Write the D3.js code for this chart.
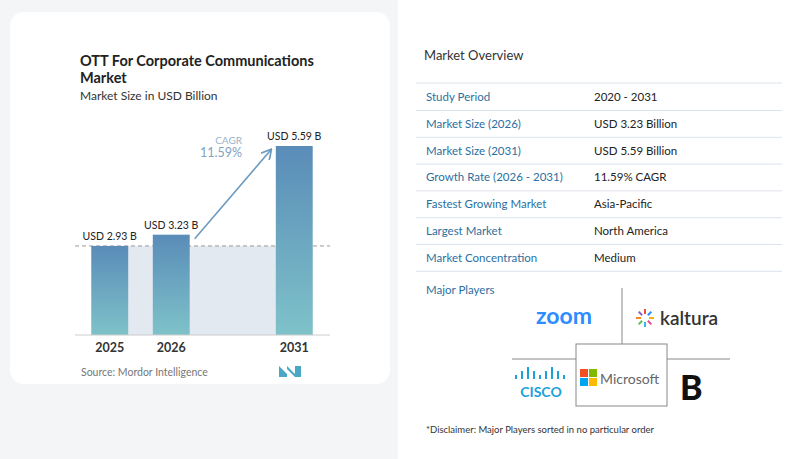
<!DOCTYPE html>
<html><head><meta charset="utf-8">
<script src="https://cdn.jsdelivr.net/npm/d3@7"></script>
<style>body{margin:0;background:#f4f5f7;font-family:Lato,"Open Sans",sans-serif}</style>
</head><body>
<svg width="800" height="459"></svg>
<script>
const years = ["2025", "2026", "", "2031"];
const values = [2.93, 3.23, null, 5.59];
const labels = ["USD 2.93 B", "USD 3.23 B", "", "USD 5.59 B"];
const rowKeys = ["Study Period", "Market Size (2026)", "Market Size (2031)", "Growth Rate (2026 - 2031)", "Fastest Growing Market", "Largest Market", "Market Concentration"];
const rowVals = ["2020 - 2031", "USD 3.23 Billion", "USD 5.59 Billion", "11.59% CAGR", "Asia-Pacific", "North America", "Medium"];

const svg = d3.select("svg");
svg.append("rect").attr("width", 800).attr("height", 459).attr("fill", "#f4f5f7");
svg.append("rect").attr("x", 10).attr("y", 12).attr("width", 380).attr("height", 372).attr("rx", 14).attr("fill", "#fff");
svg.append("rect").attr("x", 398).attr("y", 0).attr("width", 402).attr("height", 459).attr("fill", "#fff");

const defs = svg.append("defs");
const gr = defs.append("linearGradient").attr("id", "bg").attr("x1", 0).attr("y1", 0).attr("x2", 0).attr("y2", 1);
gr.append("stop").attr("offset", "0%").attr("stop-color", "#5a8cb8");
gr.append("stop").attr("offset", "100%").attr("stop-color", "#7ec2c9");

svg.append("text").attr("x", 80).attr("y", 66).attr("font-size", 14.5).attr("font-weight", 700).attr("fill", "#222").text("OTT For Corporate Communications");
svg.append("text").attr("x", 80).attr("y", 83).attr("font-size", 14.5).attr("font-weight", 700).attr("fill", "#222").text("Market");
svg.append("text").attr("x", 80).attr("y", 100).attr("font-size", 12).attr("fill", "#333").text("Market Size in USD Billion");

const x = d3.scaleBand().domain(years).range([79, 325]).paddingInner(0.4).paddingOuter(0.2);
const y = d3.scaleLinear().domain([0.56, 5.59]).range([335, 146]);

svg.append("rect").attr("x", x("2025")).attr("y", y(values[0]))
  .attr("width", x("2031") + x.bandwidth() - x("2025")).attr("height", 335 - y(values[0])).attr("fill", "#e2e9f1");
svg.append("line").attr("x1", 75).attr("x2", 330).attr("y1", y(values[0])).attr("y2", y(values[0]))
  .attr("stroke", "#999").attr("stroke-dasharray", "4,3");

const data = years.map((d, i) => ({ year: d, v: values[i], l: labels[i] })).filter(d => d.v != null);
svg.selectAll(".bar").data(data).enter().append("rect")
  .attr("x", d => x(d.year)).attr("y", d => y(d.v)).attr("width", x.bandwidth())
  .attr("height", d => 335 - y(d.v)).attr("fill", "url(#bg)");
svg.selectAll(".vl").data(data).enter().append("text")
  .attr("x", d => x(d.year) + x.bandwidth() / 2).attr("y", d => y(d.v) - 6)
  .attr("text-anchor", "middle").attr("font-size", 10.5).attr("fill", "#222").text(d => d.l);
svg.append("line").attr("x1", 75).attr("x2", 330).attr("y1", 335).attr("y2", 335).attr("stroke", "#ccc");
svg.selectAll(".yr").data(data).enter().append("text")
  .attr("x", d => x(d.year) + x.bandwidth() / 2).attr("y", 352)
  .attr("text-anchor", "middle").attr("font-size", 12.5).attr("font-weight", 700).attr("fill", "#333").text(d => d.year);

// CAGR arrow
defs.append("marker").attr("id", "ah").attr("viewBox", "0 0 10 10").attr("refX", 8).attr("refY", 5)
  .attr("markerWidth", 7).attr("markerHeight", 7).attr("orient", "auto")
  .append("path").attr("d", "M0,0 L9,5 L0,10").attr("fill", "none").attr("stroke", "#6b9bc0").attr("stroke-width", 1.5);
svg.append("line").attr("x1", x("2026") + x.bandwidth() + 5).attr("y1", y(values[1]) + 4)
  .attr("x2", x("2031") - 5).attr("y2", y(values[3]) + 4)
  .attr("stroke", "#6b9bc0").attr("stroke-width", 1.6).attr("marker-end", "url(#ah)");
svg.append("text").attr("x", 242).attr("y", 144).attr("text-anchor", "end").attr("font-size", 10).attr("fill", "#9ab3c8").text("CAGR");
svg.append("text").attr("x", 242).attr("y", 157).attr("text-anchor", "end").attr("font-size", 12.5).attr("fill", "#7fa3c2").text("11.59%");

svg.append("text").attr("x", 81).attr("y", 376).attr("font-size", 10.5).attr("fill", "#777").text("Source:  Mordor Intelligence");
svg.append("path").attr("d", "M279,377 L279,366 L287,374 L287,366 L295,374 L295,366 L301,366 L301,377 L295,377 L287,369 L287,377 Z").attr("fill", "#4aa8c4");

// right panel
svg.append("text").attr("x", 424).attr("y", 60).attr("font-size", 13).attr("fill", "#333").text("Market Overview");
rowKeys.forEach((k, i) => {
  const yy = 97 + i * 26.8;
  svg.append("text").attr("x", 426).attr("y", yy + 4).attr("font-size", 11.5).attr("fill", "#2b6f9f").text(k);
  svg.append("text").attr("x", 594).attr("y", yy + 4).attr("font-size", 11.5).attr("fill", "#222").text(rowVals[i]);
  svg.append("line").attr("x1", 416).attr("x2", 782).attr("y1", yy + 13.5).attr("y2", yy + 13.5).attr("stroke", "#dde3ea");
});
svg.append("line").attr("x1", 416).attr("x2", 782).attr("y1", 83).attr("y2", 83).attr("stroke", "#dde3ea");
svg.append("text").attr("x", 426).attr("y", 294).attr("font-size", 11.5).attr("fill", "#2b6f9f").text("Major Players");

// logos grid
const g = svg.append("g").attr("stroke", "#888").attr("fill", "none");
g.append("line").attr("x1", 622).attr("x2", 622).attr("y1", 288).attr("y2", 344);
g.append("rect").attr("x", 576).attr("y", 344).attr("width", 91).attr("height", 62);
g.append("line").attr("x1", 512).attr("x2", 576).attr("y1", 359).attr("y2", 359);
g.append("line").attr("x1", 667).attr("x2", 730).attr("y1", 359).attr("y2", 359);
svg.append("text").attr("x", 564).attr("y", 324).attr("text-anchor", "middle").attr("font-size", 23).attr("font-weight", 700).attr("fill", "#2d8cff").text("zoom");
svg.append("text").attr("x", 660).attr("y", 325).attr("font-size", 19).attr("font-weight", 600).attr("fill", "#333").text("kaltura");
["#f4b400", "#e94b8a", "#39b6e6", "#5bbf5b", "#f58b1f", "#8a63d2", "#e94b3c", "#2d8cff"].forEach((c, i) => {
  const a = i * Math.PI / 4;
  svg.append("line").attr("x1", 645 + 4 * Math.cos(a)).attr("y1", 318 + 4 * Math.sin(a))
    .attr("x2", 645 + 9 * Math.cos(a)).attr("y2", 318 + 9 * Math.sin(a)).attr("stroke", c).attr("stroke-width", 2);
});
[0, 1, 2, 3, 4, 5, 6, 7, 8].forEach(i => {
  const h = [4, 8, 12, 8, 4, 8, 12, 8, 4][i];
  svg.append("line").attr("x1", 516 + i * 6).attr("x2", 516 + i * 6).attr("y1", 379 - h).attr("y2", 379)
    .attr("stroke", "#1ba0d7").attr("stroke-width", 2);
});
svg.append("text").attr("x", 541).attr("y", 397).attr("text-anchor", "middle").attr("font-size", 14).attr("font-weight", 700).attr("fill", "#1ba0d7").text("CISCO");
[["#f25022", 580, 369], ["#7fba00", 589, 369], ["#00a4ef", 580, 378], ["#ffb900", 589, 378]].forEach(d =>
  svg.append("rect").attr("x", d[1]).attr("y", d[2]).attr("width", 8).attr("height", 8).attr("fill", d[0]));
svg.append("text").attr("x", 600).attr("y", 384).attr("font-size", 14).attr("fill", "#666").text("Microsoft");
svg.append("text").attr("x", 680).attr("y", 400).attr("font-size", 34).attr("font-weight", 900).attr("fill", "#111").text("B");
svg.append("text").attr("x", 426).attr("y", 433).attr("font-size", 9.5).attr("fill", "#333").text("*Disclaimer: Major Players sorted in no particular order");
</script>
</body></html>
